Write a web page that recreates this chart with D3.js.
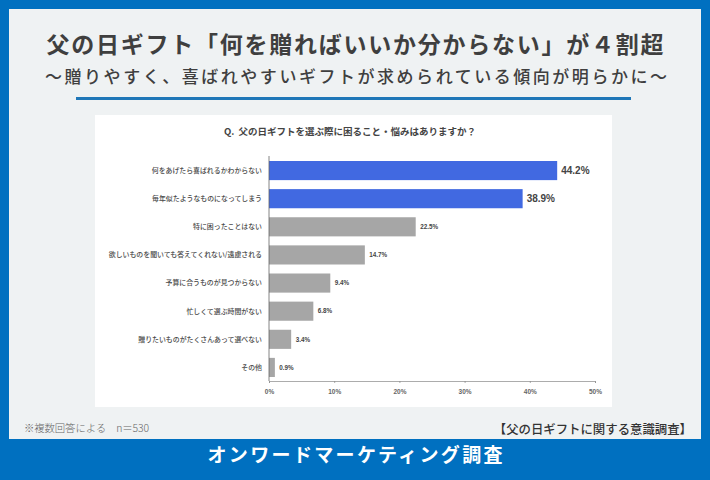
<!DOCTYPE html>
<html lang="ja">
<head>
<meta charset="UTF-8">
<title>父の日ギフト</title>
<script src="https://d3js.org/d3.v7.min.js"></script>
<style>
  html, body { margin: 0; padding: 0; background: #0070c0; }
  svg { display: block; }
  text { font-family: "Noto Sans CJK JP", sans-serif; }
</style>
</head>
<body>
<svg id="chart" width="710" height="480"></svg>
<script>
const categories = [
  "何をあげたら喜ばれるかわからない",
  "毎年似たようなものになってしまう",
  "特に困ったことはない",
  "欲しいものを聞いても答えてくれない/遠慮される",
  "予算に合うものが見つからない",
  "忙しくて選ぶ時間がない",
  "贈りたいものがたくさんあって選べない",
  "その他"
];
const values = [44.2, 38.9, 22.5, 14.7, 9.4, 6.8, 3.4, 0.9];
const highlighted = [true, true, false, false, false, false, false, false];
const xTicks = [0, 10, 20, 30, 40, 50];

const svg = d3.select("#chart");

// background panels
svg.append("rect").attr("width", 710).attr("height", 480).attr("fill", "#0070c0");
svg.append("rect").attr("x", 9).attr("y", 9).attr("width", 692).attr("height", 430).attr("fill", "#eff2f3");
svg.append("rect").attr("x", 95).attr("y", 115).attr("width", 517).attr("height", 292).attr("fill", "#fff");

// headings
svg.append("text").attr("x", 355).attr("y", 53).attr("text-anchor", "middle")
  .attr("font-size", 23).attr("font-weight", 700).attr("fill", "#3f3f3f")
  .attr("textLength", 617).attr("lengthAdjust", "spacing")
  .text("父の日ギフト「何を贈ればいいか分からない」が４割超");
svg.append("text").attr("x", 356).attr("y", 83).attr("text-anchor", "middle")
  .attr("font-size", 17).attr("font-weight", 500).attr("fill", "#3f3f3f")
  .attr("textLength", 622).attr("lengthAdjust", "spacing")
  .text("〜贈りやすく、喜ばれやすいギフトが求められている傾向が明らかに〜");
svg.append("rect").attr("x", 76).attr("y", 97).attr("width", 555).attr("height", 3).attr("fill", "#1f77b8");

svg.append("text").attr("x", 350).attr("y", 135).attr("text-anchor", "middle")
  .attr("font-size", 9.5).attr("font-weight", 700).attr("fill", "#444")
  .text("Q.\u00a0\u00a0父の日ギフトを選ぶ際に困ること・悩みはありますか？");

// chart
const x = d3.scaleLinear().domain([0, 50]).range([269, 595]);
const y = d3.scaleBand().domain(categories).range([156.5, 381.5]).paddingInner(0.32).paddingOuter(0.16);

svg.append("g").selectAll("rect").data(categories).join("rect")
  .attr("x", x(0))
  .attr("y", d => y(d))
  .attr("width", (d, i) => x(values[i]) - x(0))
  .attr("height", y.bandwidth())
  .attr("fill", (d, i) => highlighted[i] ? "#4169e1" : "#a6a6a6");

svg.append("g").selectAll("text").data(categories).join("text")
  .attr("x", 262)
  .attr("y", d => y(d) + y.bandwidth() / 2 + 2.4)
  .attr("text-anchor", "end")
  .attr("font-size", 6.9).attr("font-weight", 500).attr("fill", "#4a4a4a")
  .text(d => d);

svg.append("g").selectAll("text").data(categories).join("text")
  .attr("x", (d, i) => x(values[i]) + (highlighted[i] ? 4 : 4.5))
  .attr("y", d => y(d) + y.bandwidth() / 2)
  .attr("dy", (d, i) => highlighted[i] ? 3.5 : 2.3)
  .style("font-family", "'Liberation Sans', sans-serif")
  .attr("font-size", (d, i) => highlighted[i] ? 10 : 6.3)
  .attr("font-weight", 700).attr("fill", "#444")
  .text((d, i) => values[i].toFixed(1) + "%");

// axis
const axis = d3.axisBottom(x).tickValues(xTicks).tickSize(2).tickPadding(6).tickFormat(d => d + "%");
const gx = svg.append("g").attr("transform", "translate(0,381)").call(axis);
gx.select(".domain").attr("stroke", "#888").attr("stroke-width", 0.7);
gx.selectAll("line").attr("stroke", "#888").attr("stroke-width", 0.7);
gx.selectAll("text").style("font-family", "'Liberation Sans', sans-serif")
  .attr("font-size", 6.5).attr("font-weight", 700).attr("fill", "#666");

svg.append("line").attr("x1", x(0)).attr("x2", x(0)).attr("y1", 156).attr("y2", 381)
  .attr("stroke", "#666").attr("stroke-width", 0.8);

// footer
svg.append("text").attr("x", 24).attr("y", 432)
  .attr("font-size", 10.4).attr("font-weight", 300).attr("fill", "#666")
  .attr("textLength", 125).attr("lengthAdjust", "spacing")
  .text("※複数回答による　n＝530");
svg.append("text").attr("x", 692).attr("y", 434).attr("text-anchor", "end")
  .attr("font-size", 12.4).attr("font-weight", 500).attr("fill", "#333")
  .text("【父の日ギフトに関する意識調査】");
svg.append("text").attr("x", 355).attr("y", 462).attr("text-anchor", "middle")
  .attr("font-size", 19).attr("font-weight", 700).attr("fill", "#fff")
  .attr("textLength", 295).attr("lengthAdjust", "spacing")
  .text("オンワードマーケティング調査");
</script>
</body>
</html>
